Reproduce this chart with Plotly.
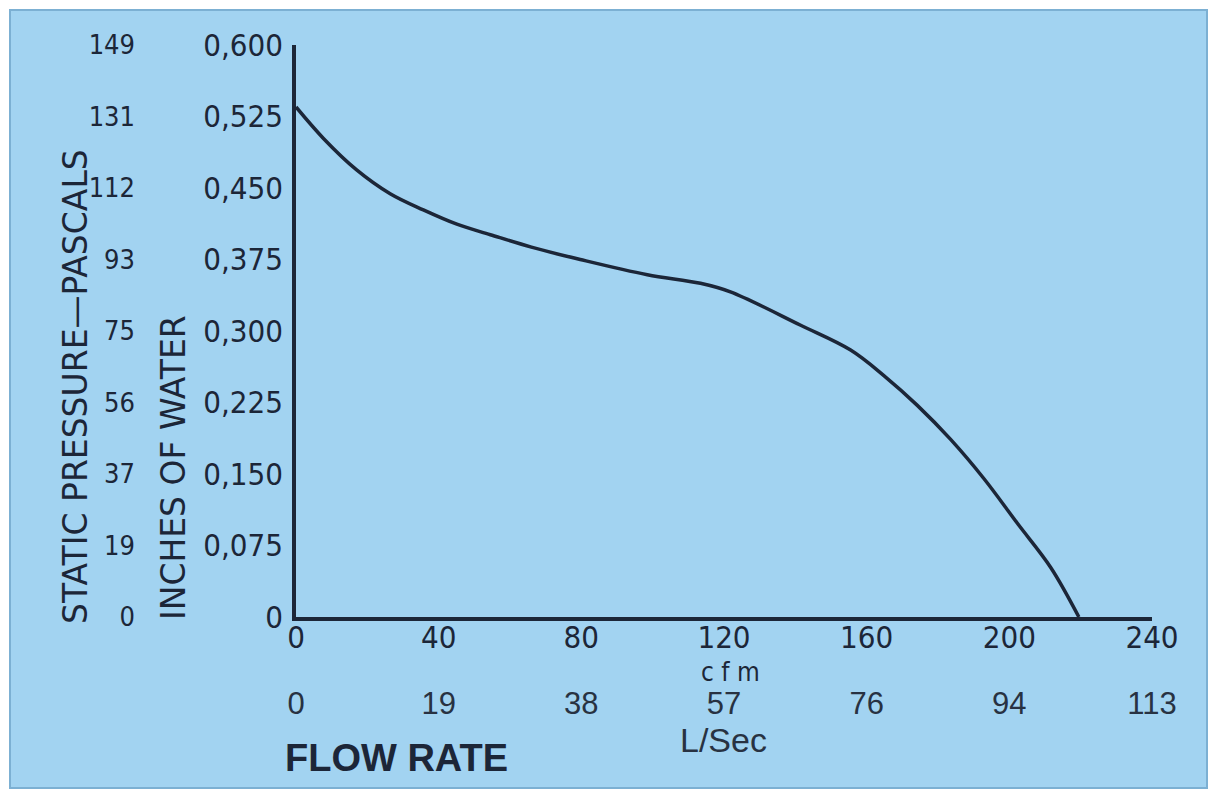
import plotly.graph_objects as go

# Data (flow in cfm, static pressure in inches of water)
cfm = [0, 7.7, 17, 26.4, 35.7, 45.1, 54.5, 66, 79.7, 98.5, 113.4, 121.8, 141.5,
       155.5, 164.9, 174.2, 183.6, 192.9, 202.3, 211.6, 219.5]
inches_water = [0.535, 0.502, 0.469, 0.444, 0.427, 0.412, 0.401, 0.388, 0.375, 0.359, 0.350, 0.341,
                0.306, 0.280, 0.253, 0.222, 0.186, 0.145, 0.098, 0.052, 0.0]

cfm_ticks = [0, 40, 80, 120, 160, 200, 240]
cfm_labels = ["0", "40", "80", "120", "160", "200", "240"]
lsec_labels = ["0", "19", "38", "57", "76", "94", "113"]

inch_ticks = [0, 0.075, 0.15, 0.225, 0.3, 0.375, 0.45, 0.525, 0.6]
inch_labels = ["0", "0,075", "0,150", "0,225", "0,300", "0,375", "0,450", "0,525", "0,600"]
pascal_labels = ["0", "19", "37", "56", "75", "93", "112", "131", "149"]

BG = "#a2d3f1"
INK = "#1c2638"
COND = "DejaVu Sans Condensed, Liberation Sans Narrow, sans-serif"
DJV = "DejaVu Sans, sans-serif"
NARROW = "Liberation Sans Narrow, Arial Narrow, sans-serif"
HELV = "Liberation Sans, Arial, sans-serif"

W, H = 1216, 790
L, R, T, B = 296, 64, 45, 173
pw, ph = W - L - R, H - T - B


def px_to_paper_x(px):
    return (px - L) / pw


def px_to_paper_y(py):
    return (H - B - py) / ph


fig = go.Figure()
fig.add_trace(go.Scatter(
    x=cfm, y=inches_water, mode="lines",
    line=dict(color=INK, width=3.5, shape="spline", smoothing=1.0),
    hoverinfo="skip", showlegend=False, cliponaxis=False))
# invisible trace for the secondary (metric) axes
fig.add_trace(go.Scatter(x=[0, 240], y=[0, 0.6], xaxis="x2", yaxis="y2", mode="none",
                         showlegend=False, hoverinfo="skip"))

fig.update_layout(
    width=W, height=H,
    margin=dict(l=L, r=R, t=T, b=B),
    paper_bgcolor="white",
    plot_bgcolor=BG,
    font=dict(family=COND, color=INK),
    xaxis=dict(range=[0, 240], tickvals=cfm_ticks, ticktext=cfm_labels, showgrid=False,
               zeroline=False, showline=True, linecolor=INK, linewidth=3.5, ticks="",
               tickfont=dict(size=31, color=INK, family=COND), ticklabelstandoff=-10),
    xaxis2=dict(range=[0, 240], overlaying="x", side="bottom", anchor="y", tickvals=cfm_ticks,
                ticktext=lsec_labels, showgrid=False, zeroline=False, showline=False, ticks="",
                tickfont=dict(size=31, color="#283242", family=NARROW),
                ticklabelstandoff=65),
    yaxis=dict(range=[0, 0.6], tickvals=inch_ticks, ticktext=inch_labels, showgrid=False,
               zeroline=False, showline=True, linecolor=INK, linewidth=3.5, ticks="",
               tickfont=dict(size=31, color=INK, family=COND), ticklabelstandoff=3),
    yaxis2=dict(range=[0, 0.6], overlaying="y", side="left", anchor="x", tickvals=inch_ticks,
                ticktext=pascal_labels, showgrid=False, zeroline=False, showline=False, ticks="",
                tickfont=dict(size=27, color=INK, family=COND), ticklabelstandoff=160),
    shapes=[dict(type="rect", xref="paper", yref="paper", layer="below",
                 x0=px_to_paper_x(10), x1=px_to_paper_x(1207),
                 y0=px_to_paper_y(788), y1=px_to_paper_y(10),
                 fillcolor=BG, line=dict(color="#7cb0d3", width=2))],
    annotations=[
        dict(text="STATIC PRESSURE—PASCALS", xref="paper", yref="paper",
             x=px_to_paper_x(75), y=px_to_paper_y(387), textangle=-90, showarrow=False,
             font=dict(size=33, color=INK, family=DJV), xanchor="center", yanchor="middle"),
        dict(text="INCHES OF WATER", xref="paper", yref="paper",
             x=px_to_paper_x(173), y=px_to_paper_y(468), textangle=-90, showarrow=False,
             font=dict(size=33, color=INK, family=DJV), xanchor="center", yanchor="middle"),
        dict(text="c f m", xref="paper", yref="paper", x=px_to_paper_x(730), y=px_to_paper_y(672),
             showarrow=False, font=dict(size=26, color=INK, family=COND),
             xanchor="center", yanchor="middle"),
        dict(text="L/Sec", xref="paper", yref="paper", x=px_to_paper_x(723), y=px_to_paper_y(740),
             showarrow=False, font=dict(size=34, color="#283242", family=NARROW),
             xanchor="center", yanchor="middle"),
        dict(text="<b>FLOW RATE</b>", xref="paper", yref="paper", x=px_to_paper_x(283),
             y=px_to_paper_y(758), showarrow=False,
             font=dict(size=38, color=INK, family=HELV),
             xanchor="left", yanchor="middle"),
    ],
)

fig.write_html("out.html", config={"displayModeBar": False},
               post_script="document.body.style.margin='0px';")
